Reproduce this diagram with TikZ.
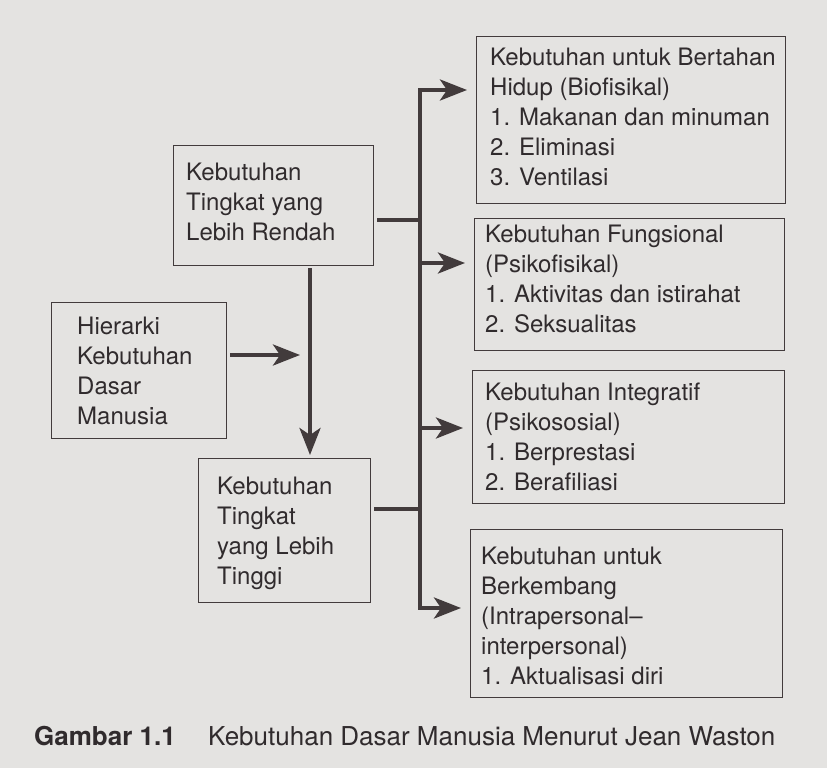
\documentclass[tikz,border=0pt]{standalone}
\usepackage{fontspec}
\setmainfont{TeX Gyre Heros}
\usetikzlibrary{arrows.meta,calc}
\definecolor{bg}{RGB}{228,227,225}
\definecolor{ink}{RGB}{66,59,60}
\definecolor{txtc}{RGB}{48,43,45}
\tikzset{
  boxshape/.style={draw=ink, line width=1.4pt, rectangle, inner sep=0pt, anchor=north west},
  txt/.style={text=txtc, align=left, inner sep=0pt, anchor=north west, font=\fontsize{24}{30}\selectfont},
  thick line/.style={draw=ink, line width=4pt},
  arr/.style={thick line, -{Stealth[length=27pt,width=21pt,inset=7pt]}},
  captxt/.style={text=txtc, inner sep=0pt, anchor=base west, font=\fontsize{26}{30}\selectfont}
}
\begin{document}
\begin{tikzpicture}[x=1pt,y=-1pt]
\fill[bg] (0,0) rectangle (827,768);
\useasboundingbox (0,0) rectangle (827,768);

% left boxes
\node[boxshape, minimum width=200pt, minimum height=120pt] (rendah) at (173,145) {};
\node[txt] (trendah) at (186,163) {Kebutuhan\\Tingkat yang\\Lebih Rendah};

\node[boxshape, minimum width=175pt, minimum height=136pt] (hier) at (51,302) {};
\node[txt] (thier) at (77,317) {Hierarki\\Kebutuhan\\Dasar\\Manusia};

\node[boxshape, minimum width=172pt, minimum height=144pt] (tinggi) at (198,458) {};
\node[txt] (ttinggi) at (217,477) {Kebutuhan\\Tingkat\\yang Lebih\\Tinggi};

% right boxes
\node[boxshape, minimum width=309pt, minimum height=167pt] (b1) at (476,36) {};
\node[txt] (t1) at (490,48) {Kebutuhan untuk Bertahan\\Hidup (Biofisikal)\\1. Makanan dan minuman\\2. Eliminasi\\3. Ventilasi};

\node[boxshape, minimum width=310pt, minimum height=132pt] (b2) at (474,218) {};
\node[txt] (t2) at (485,225) {Kebutuhan Fungsional\\(Psikofisikal)\\1. Aktivitas dan istirahat\\2. Seksualitas};

\node[boxshape, minimum width=312pt, minimum height=133pt] (b3) at (472,370) {};
\node[txt] (t3) at (485,383) {Kebutuhan Integratif\\(Psikososial)\\1. Berprestasi\\2. Berafiliasi};

\node[boxshape, minimum width=312pt, minimum height=168pt] (b4) at (470,529) {};
\node[txt] (t4) at (481,547) {Kebutuhan untuk\\Berkembang\\(Intrapersonal–\\interpersonal)\\1. Aktualisasi diri};

% coordinates
\coordinate (bustop) at (420,90);
\coordinate (busbot) at (420,608);
\coordinate (busmid) at (420,350);
\coordinate (bus2) at (420,263);
\coordinate (bus3) at (420,428);
\coordinate (busR) at (420,220);
\coordinate (busT) at (420,509);
\coordinate (hiertip) at (300,355);

% bus and arrows to right boxes
\draw[arr, line join=miter, shorten >=9pt] (busmid) -- (bustop) -- (b1.west |- bustop);
\draw[arr, line join=miter, shorten >=9pt] (busmid) -- (busbot) -- (b4.west |- busbot);
\draw[arr, shorten >=9pt] ([xshift=-2pt]bus2) -- (b2.west |- bus2);
\draw[arr, shorten >=9pt] ([xshift=-2pt]bus3) -- (b3.west |- bus3);

% connectors from left boxes into bus
\draw[thick line] ([xshift=3pt]rendah.east |- busR) -- ([xshift=2pt]busR);
\draw[thick line] ([xshift=3pt]tinggi.east |- busT) -- ([xshift=2pt]busT);

% vertical arrow
\draw[arr, shorten <=2pt, shorten >=3pt] (rendah.south -| 310,0) -- (tinggi.north -| 310,0);

% Hierarki arrow
\draw[arr, shorten <=3pt] (hier.east |- hiertip) -- (hiertip);

% caption
\node[captxt, font=\fontsize{26}{30}\selectfont\bfseries] (cap1) at (34,745) {Gambar 1.1};
\node[captxt] (cap2) at (208,745) {Kebutuhan Dasar Manusia Menurut Jean Waston};
\end{tikzpicture}
\end{document}
